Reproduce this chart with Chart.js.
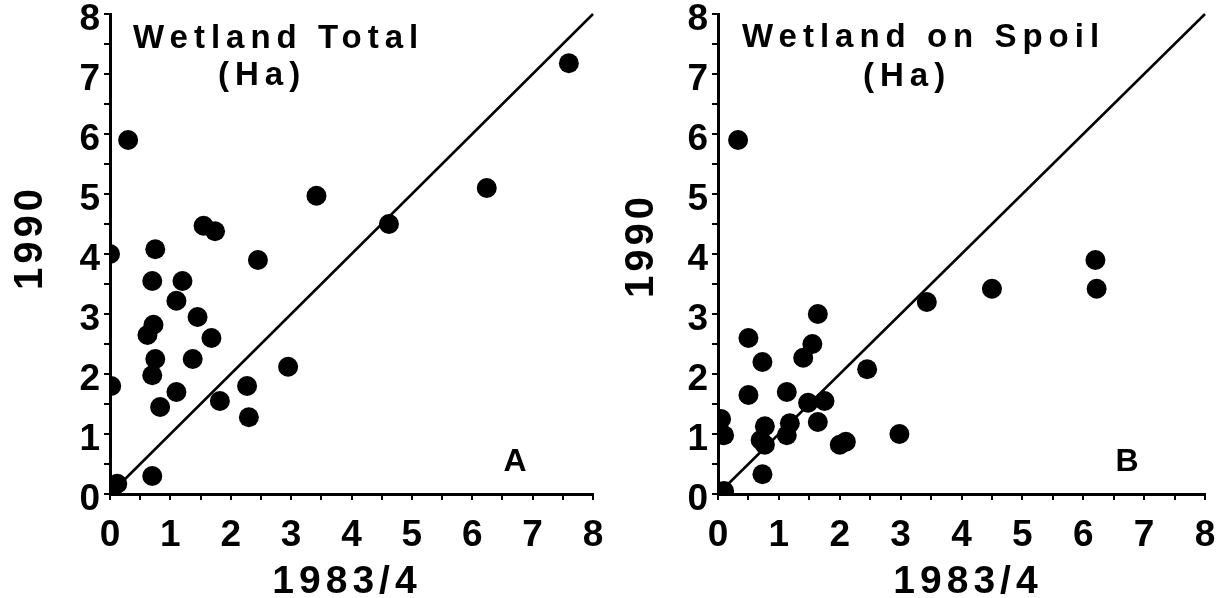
<!DOCTYPE html>
<html><head><meta charset="utf-8">
<script src="https://cdn.jsdelivr.net/npm/chart.js@4.4.1/dist/chart.umd.min.js"></script>
<style>
html,body{margin:0;padding:0;background:#fff;}
#wrap{position:relative;width:1223px;height:598px;overflow:hidden;background:#fff}
canvas{position:absolute;top:0}
</style></head><body>
<div id="wrap">
<canvas id="cA" width="611" height="598" style="left:0"></canvas>
<canvas id="cB" width="612" height="598" style="left:611px"></canvas>
</div>
<script>
// ---- data ----
const tickValues = [0, 1, 2, 3, 4, 5, 6, 7, 8];
const xAxisTitle = '1983/4';
const yAxisTitle = '1990';
const panelATitle = ['Wetland Total', '(Ha)'];
const panelBTitle = ['Wetland on Spoil', '(Ha)'];
const panelALetter = 'A';
const panelBLetter = 'B';
const equalityLine = [0, 8];

const wetlandTotal1983 = [0.3, 7.6, 3.42, 6.24, 4.62, 1.55, 1.74, 0.75, 0, 2.45, 0.7, 1.2, 1.1, 1.45, 0.72, 0.62, 1.68, 0.75, 1.37, 0.7, 0.02, 2.95, 2.27, 1.1, 0.83, 1.82, 2.3, 0.7, 0.12];
const wetlandTotal1990 = [5.9, 7.18, 4.97, 5.1, 4.5, 4.47, 4.38, 4.08, 4.0, 3.9, 3.55, 3.55, 3.22, 2.95, 2.82, 2.65, 2.6, 2.25, 2.25, 1.98, 1.8, 2.12, 1.8, 1.7, 1.45, 1.55, 1.28, 0.3, 0.17];

const wetlandSpoil1983 = [0.33, 6.2, 6.22, 4.5, 3.43, 1.64, 0.5, 1.55, 1.4, 0.73, 2.45, 0.5, 1.13, 1.48, 1.75, 1.64, 0.77, 1.18, 1.13, 0.7, 0.77, 2.0, 2.1, 2.98, 0.73, 0.1, 0.05, 0.1];
const wetlandSpoil1990 = [5.9, 3.9, 3.42, 3.42, 3.2, 3.0, 2.6, 2.5, 2.27, 2.2, 2.08, 1.65, 1.7, 1.52, 1.55, 1.2, 1.13, 1.18, 0.98, 0.9, 0.82, 0.82, 0.87, 1.0, 0.33, 0.98, 1.25, 0.05];

// ---- rendering ----
const FONT = "'Liberation Sans', Arial, sans-serif";

function textPlugin(p) {
  return {
    id: 'panelText',
    afterDraw(chart) {
      const ctx = chart.ctx;
      const a = chart.chartArea;
      ctx.save();
      ctx.fillStyle = '#000';
      ctx.textBaseline = 'alphabetic';
      ctx.textAlign = 'left';
      const setLS = v => { if ('letterSpacing' in ctx) ctx.letterSpacing = v + 'px'; };
      // title
      ctx.font = 'bold 33px ' + FONT;
      setLS(6);
      ctx.fillText(p.title[0], a.left + p.t1x, a.top + p.t1y);
      ctx.fillText(p.title[1], a.left + p.t2x, a.top + p.t2y);
      // panel letter
      ctx.font = 'bold 32px ' + FONT;
      setLS(0);
      ctx.textAlign = 'center';
      ctx.fillText(p.letter, a.left + p.lx, a.bottom + p.ly);
      // x axis title
      ctx.font = 'bold 39px ' + FONT;
      setLS(5);
      ctx.textAlign = 'left';
      let w = ctx.measureText(xAxisTitle).width - 5;
      ctx.fillText(xAxisTitle, (a.left + a.right) / 2 + p.xtdx - w / 2, a.bottom + 99);
      // y axis title
      ctx.font = 'bold 40px ' + FONT;
      setLS(4);
      ctx.translate(p.ytx, p.yty);
      ctx.rotate(-Math.PI / 2);
      ctx.fillText(yAxisTitle, 0, 0);
      ctx.restore();
    }
  };
}

function makeChart(id, xs, ys, yWidth, p) {
  const pts = xs.map((x, i) => ({ x: x, y: ys[i] }));
  const line = equalityLine.map(v => ({ x: v, y: v }));
  const tickFont = { family: FONT, size: 37, weight: 'bold' };
  const cb = v => (tickValues.includes(v) ? String(v) : '');
  return new Chart(document.getElementById(id), {
    type: 'scatter',
    data: {
      datasets: [
        { data: pts, backgroundColor: '#000', borderWidth: 0, pointRadius: 10, pointHoverRadius: 10, clip: 0 },
        { data: line, showLine: true, borderColor: '#000', borderWidth: 2.5, pointRadius: 0, fill: false, clip: false }
      ]
    },
    options: {
      responsive: false,
      animation: false,
      events: [],
      layout: { padding: { top: 14, right: 18, left: 0, bottom: 0 } },
      plugins: { legend: { display: false }, tooltip: { enabled: false }, title: { display: false } },
      scales: {
        x: {
          type: 'linear', min: 0, max: 8,
          ticks: { stepSize: 0.5, autoSkip: false, maxRotation: 0, font: tickFont, color: '#000', padding: 14, callback: cb },
          grid: { drawOnChartArea: false, drawTicks: true, tickLength: 6, color: '#000', lineWidth: 2 },
          border: { display: true, color: '#000', width: 3 },
          afterFit: s => { s.height = 104; s.paddingLeft = 0; s.paddingRight = 0; }
        },
        y: {
          type: 'linear', min: 0, max: 8,
          ticks: { stepSize: 0.5, autoSkip: false, font: tickFont, color: '#000', padding: 4, labelOffset: 6, callback: cb },
          grid: { drawOnChartArea: false, drawTicks: true, tickLength: 6, color: '#000', lineWidth: 2 },
          border: { display: true, color: '#000', width: 3 },
          afterFit: s => { s.width = yWidth; s.paddingTop = 0; s.paddingBottom = 0; }
        }
      }
    },
    plugins: [textPlugin(p)]
  });
}

makeChart('cA', wetlandTotal1983, wetlandTotal1990, 110, {
  title: panelATitle, t1x: 23, t1y: 34, t2x: 108, t2y: 71,
  letter: panelALetter, lx: 405, ly: -23,
  xtdx: -7, ytx: 42, yty: 290
});
makeChart('cB', wetlandSpoil1983, wetlandSpoil1990, 107, {
  title: panelBTitle, t1x: 24, t1y: 33, t2x: 145, t2y: 72,
  letter: panelBLetter, lx: 409, ly: -23,
  xtdx: 4, ytx: 42, yty: 298
});
</script>
</body></html>
